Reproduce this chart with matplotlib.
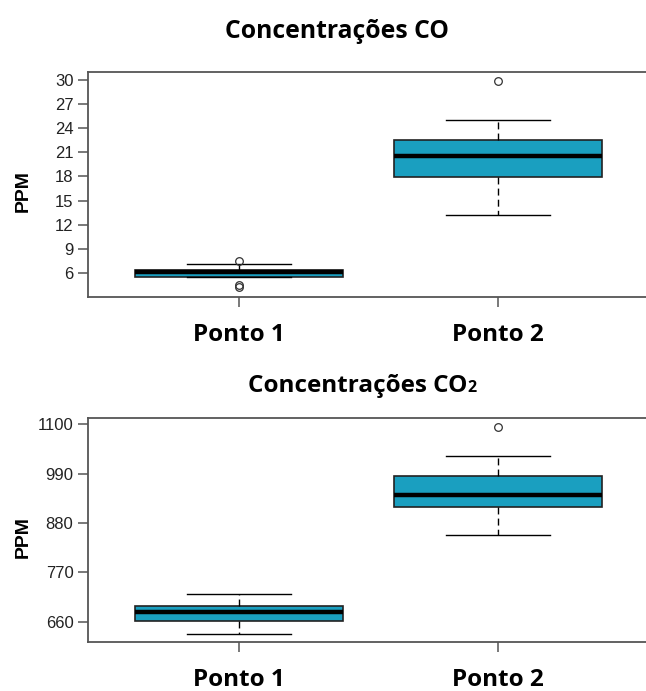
import matplotlib
matplotlib.use("Agg")
import matplotlib.pyplot as plt

plt.rcParams['font.family'] = ['Liberation Sans', 'DejaVu Sans']

pontos = ["Ponto 1", "Ponto 2"]

# CO (ppm): box statistics per ponto
co_whislo = [5.55, 13.2]
co_q1 = [5.55, 17.9]
co_med = [6.15, 20.5]
co_q3 = [6.4, 22.5]
co_whishi = [7.1, 25.0]
co_fliers = [[7.5, 4.5, 4.3], [29.9]]
co_ticks = [6, 9, 12, 15, 18, 21, 24, 27, 30]

# CO2 (ppm)
co2_whislo = [633, 854]
co2_q1 = [661, 916]
co2_med = [681, 942]
co2_q3 = [694, 984]
co2_whishi = [722, 1029]
co2_fliers = [[], [1095]]
co2_ticks = [660, 770, 880, 990, 1100]

fill = "#1a9fc0"
title_font = "Open Sans"


def stats(lo, q1, med, q3, hi, fl):
    return [dict(whislo=lo[i], q1=q1[i], med=med[i], q3=q3[i], whishi=hi[i],
                 fliers=fl[i], label=pontos[i]) for i in range(len(pontos))]


def draw(ax, st, ticks, ylim):
    ax.bxp(st, positions=[1, 2], widths=0.8, patch_artist=True,
           boxprops=dict(facecolor=fill, edgecolor="#222222", linewidth=1.2),
           medianprops=dict(color="black", linewidth=3.2),
           whiskerprops=dict(color="black", linewidth=1.0, linestyle=(0, (5, 3))),
           capprops=dict(color="black", linewidth=1.0),
           capwidths=0.4,
           flierprops=dict(marker="o", markersize=5.5, markerfacecolor="none",
                           markeredgecolor="#333333", markeredgewidth=0.9))
    ax.set_xlim(0.42, 2.58)
    ax.set_ylim(*ylim)
    ax.set_yticks(ticks)
    ax.set_xticks([1, 2])
    ax.set_xticklabels(pontos, fontsize=17.5, fontweight="bold", family=title_font)
    for s in ax.spines.values():
        s.set_color("#555555")
        s.set_linewidth(1.3)
    ax.tick_params(axis="y", length=7.5, width=1.1, color="#555555",
                   labelsize=12, labelcolor="#222222", pad=3)
    ax.tick_params(axis="x", length=7.5, width=1.1, color="#555555", pad=11)
    ax.set_ylabel("PPM", fontsize=14, fontweight="bold")
    ax.yaxis.set_label_coords(-0.10, 0.47)


fig = plt.figure(figsize=(6.46, 6.91), dpi=100)

ax1 = fig.add_axes([0.1362, 0.5702, 0.8684, 0.3256])
draw(ax1, stats(co_whislo, co_q1, co_med, co_q3, co_whishi, co_fliers),
     co_ticks, (3.0, 31.0))

ax2 = fig.add_axes([0.1362, 0.0705, 0.8684, 0.3250])
draw(ax2, stats(co2_whislo, co2_q1, co2_med, co2_q3, co2_whishi, co2_fliers),
     co2_ticks, (614, 1115))

fig.text(337 / 646, 1 - 38 / 691, "Concentrações CO", ha="center", va="baseline",
         fontsize=17.8, fontweight="bold", family=title_font)
fig.text(467 / 646, 1 - 391.5 / 691, "Concentrações CO", ha="right", va="baseline",
         fontsize=17.5, fontweight="bold", family=title_font)
fig.text(467 / 646, 1 - 391.5 / 691, "2", ha="left", va="baseline",
         fontsize=11.5, fontweight="bold", family=title_font)

fig.savefig("out.png", dpi=100)
